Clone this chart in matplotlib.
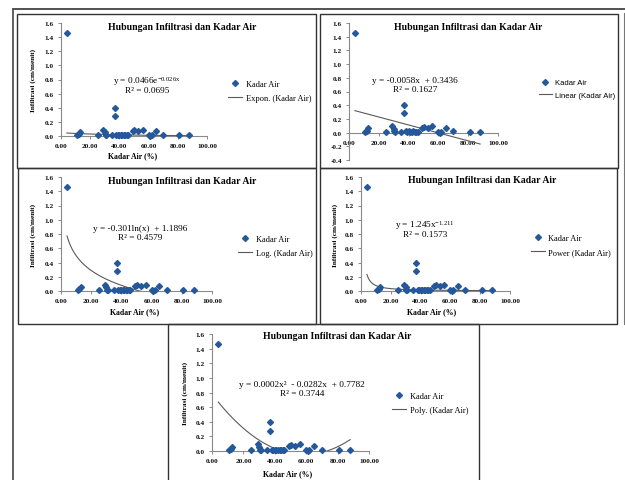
import numpy as np
import matplotlib
matplotlib.use("Agg")
import matplotlib.pyplot as plt
from matplotlib.patches import Rectangle
from matplotlib.lines import Line2D

# ---------------- data ----------------
kadar_air = [4, 11, 12, 13, 25, 29, 30, 30.5, 31, 35, 37, 37, 38, 39, 40, 41, 42,
             43, 44, 45, 46, 49, 50, 53, 56, 60, 61, 62, 65, 70, 81, 88]
infiltrasi = [1.46, 0.01, 0.03, 0.06, 0.01, 0.09, 0.05, 0.02, 0.01, 0.01, 0.40, 0.28,
              0.02, 0.01, 0.02, 0.01, 0.01, 0.02, 0.01, 0.01, 0.01, 0.07, 0.08, 0.07,
              0.09, 0.01, 0.00, 0.01, 0.07, 0.02, 0.01, 0.01]

title = "Hubungan Infiltrasi dan Kadar Air"
x_label = "Kadar Air (%)"
y_label = "Infiltrasi (cm/menit)"
series_label = "Kadar Air"
trend_labels = ["Expon. (Kadar Air)", "Linear (Kadar Air)", "Log. (Kadar Air)",
                "Power (Kadar Air)", "Poly. (Kadar Air)"]
eq_texts = [r"y = 0.0466e$^{\mathrm{-0.026x}}$", "y = -0.0058x  + 0.3436",
            "y = -0.301ln(x)  + 1.1896", r"y = 1.245x$^{\mathrm{-1.211}}$",
            "y = 0.0002x²  - 0.0282x  + 0.7782"]
r2_texts = ["R² = 0.0695", "R² = 0.1627", "R² = 0.4579", "R² = 0.1573", "R² = 0.3744"]

# trend coefficients
exp_a, exp_b = 0.0466, -0.026
lin_m, lin_c = -0.0058, 0.3436
log_a, log_b = -0.301, 1.1896
pow_a, pow_b = 1.245, -1.211
poly_a, poly_b, poly_c = 0.00024, -0.0282, 0.7782

x_ticks = [0, 20, 40, 60, 80, 100]
y_ticks_main = [0.0, 0.2, 0.4, 0.6, 0.8, 1.0, 1.2, 1.4, 1.6]
y_ticks_lin = [-0.4, -0.2] + y_ticks_main

# ---------------- style ----------------
plt.rcParams['font.family'] = ['Liberation Serif', 'DejaVu Serif']
plt.rcParams['mathtext.fontset'] = 'custom'
plt.rcParams['mathtext.rm'] = 'Liberation Serif'
plt.rcParams['mathtext.it'] = 'Liberation Serif:italic'
plt.rcParams['mathtext.bf'] = 'Liberation Serif:bold'

W, H = 625, 481
fig = plt.figure(figsize=(W / 100, H / 100), dpi=100)
fig.patch.set_facecolor('white')

def fx(x):
    return x / W

def fy(y):
    return 1 - y / H

MARK = '#24589A'
TREND = '#5A5A5A'
AXC = '#8A8A8A'
FRAME = '#333333'

# frames
fig.add_artist(Line2D([fx(13), fx(625)], [fy(10), fy(10)], color='#222222', lw=1.1))
fig.add_artist(Line2D([fx(13), fx(13)], [fy(10), fy(481)], color='#555555', lw=1.3))
fig.add_artist(Line2D([fx(624), fx(624)], [fy(14), fy(325)], color='#777777', lw=0.8))

boxes = [(17, 15, 316, 169), (320, 15, 618, 169), (18, 169, 316, 325),
         (320, 169, 617, 325), (168, 325, 479, 490)]
for (x0, y0, x1, y1) in boxes:
    fig.add_artist(Rectangle((fx(x0), fy(y1)), fx(x1) - fx(x0), fy(y0) - fy(y1),
                             transform=fig.transFigure, fill=False,
                             edgecolor=FRAME, lw=1.0))

# panel geometry: axes rect (left, top, width, height) in pixels
panels = [
    dict(rect=(61, 24, 146, 113), ylim=(0, 1.6), title=(182, 27), ylab=(33, 80),
         xlab=(133, 156), eq=(147, 82), r2=(147, 91), leg=(228, 81), show_labels=True),
    dict(rect=(349, 24, 149, 137), ylim=(-0.4, 1.6), title=(468, 27), ylab=None,
         xlab=None, eq=(415, 81), r2=(415, 90), leg=(539, 80), show_labels=False),
    dict(rect=(61, 178, 151, 114), ylim=(0, 1.6), title=(182, 182), ylab=(33, 235),
         xlab=(135, 312), eq=(140, 229), r2=(140, 238), leg=(238, 236), show_labels=True),
    dict(rect=(361, 178, 149, 114), ylim=(0, 1.6), title=(482, 181), ylab=(335, 235),
         xlab=(432, 312), eq=(425, 226), r2=(425, 235), leg=(531, 235), show_labels=True),
    dict(rect=(212, 335, 157, 117), ylim=(0, 1.6), title=(337, 337), ylab=(185, 393),
         xlab=(288, 474), eq=(302, 385), r2=(302, 394), leg=(392, 393), show_labels=True),
]

xt = np.linspace(min(kadar_air), max(kadar_air), 300)
trend_vals = [
    exp_a * np.exp(exp_b * xt),
    lin_m * xt + lin_c,
    log_a * np.log(xt) + log_b,
    pow_a * xt ** pow_b,
    poly_a * xt ** 2 + poly_b * xt + poly_c,
]

for i, p in enumerate(panels):
    l, t, w, h = p['rect']
    ax = fig.add_axes([fx(l), fy(t + h), w / W, h / H])
    ax.set_facecolor('none')
    ax.set_xlim(0, 100)
    ax.set_ylim(*p['ylim'])
    for s in ['top', 'right']:
        ax.spines[s].set_visible(False)
    for s in ['left', 'bottom']:
        ax.spines[s].set_color(AXC)
        ax.spines[s].set_linewidth(0.8)
    if i == 1:
        ax.spines['bottom'].set_position(('data', 0))
        ax.set_yticks(y_ticks_lin)
    else:
        ax.set_yticks(y_ticks_main)
    ax.set_xticks(x_ticks)
    ax.set_xticklabels([f"{v:.2f}" for v in x_ticks])
    ax.set_yticklabels([f"{v:.1f}" for v in ax.get_yticks()])
    ax.tick_params(direction='out', length=2.5, width=0.7, color=AXC,
                   labelsize=5.2, pad=2.5, labelcolor='#111111')
    for lab in ax.get_xticklabels() + ax.get_yticklabels():
        lab.set_fontweight('bold')

    sc, = ax.plot(kadar_air, infiltrasi, linestyle='none', marker='D', ms=3.0,
                  color=MARK, mec=MARK, clip_on=False, zorder=3)
    tl, = ax.plot(xt, trend_vals[i], color=TREND, lw=0.8, zorder=2)

    fig.text(fx(p['title'][0]), fy(p['title'][1]), title, ha='center', va='center',
             fontsize=7, fontweight='bold')
    if p['show_labels']:
        fig.text(fx(p['ylab'][0]), fy(p['ylab'][1]), y_label, ha='center', va='center',
                 rotation=90, fontsize=5.2, fontweight='bold')
        fig.text(fx(p['xlab'][0]), fy(p['xlab'][1]), x_label, ha='center', va='center',
                 fontsize=5.6, fontweight='bold')
    fig.text(fx(p['eq'][0]), fy(p['eq'][1]), eq_texts[i], ha='center', va='center',
             fontsize=6.7)
    fig.text(fx(p['r2'][0]), fy(p['r2'][1]), r2_texts[i], ha='center', va='center',
             fontsize=6.7)

    leg_font = dict(family=['Liberation Sans', 'DejaVu Sans'], size=5.5) if i == 1 \
        else dict(family=['Liberation Serif', 'DejaVu Serif'], size=6.0)
    ax.legend([sc, tl], [series_label, trend_labels[i]], loc='upper left',
              bbox_to_anchor=(fx(p['leg'][0]), fy(p['leg'][1])),
              bbox_transform=fig.transFigure, frameon=False, prop=leg_font,
              handlelength=1.7, handletextpad=0.4, labelspacing=0.7,
              borderpad=0, borderaxespad=0, markerscale=1.0)

fig.savefig("out.png", dpi=100, facecolor='white')
